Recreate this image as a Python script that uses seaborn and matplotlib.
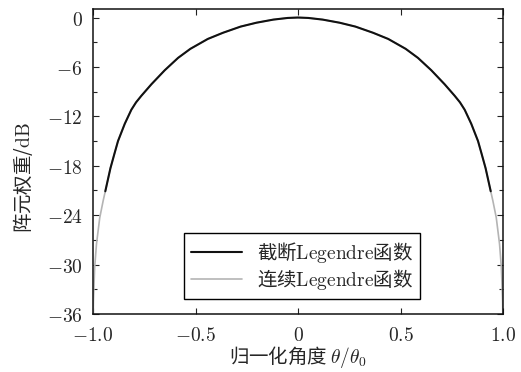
import numpy as np
import pandas as pd
import matplotlib
matplotlib.use("Agg")
import matplotlib.pyplot as plt
import seaborn as sns
from matplotlib.ticker import MultipleLocator

# Normalised angle and element weights (dB), truncated Legendre taper
trunc_x = [-0.940, -0.915, -0.895, -0.878, -0.845, -0.813, -0.790, -0.764,
           -0.715, -0.650, -0.585, -0.525, -0.440, -0.366, -0.280, -0.203,
           -0.120, -0.050, 0.000, 0.050, 0.120, 0.203, 0.280, 0.366, 0.440,
           0.525, 0.585, 0.650, 0.715, 0.764, 0.790, 0.813, 0.845, 0.878,
           0.895, 0.915, 0.940]
trunc_db = [-21.1, -18.3, -16.5, -15.0, -12.9, -11.2, -10.3, -9.5,
            -8.1, -6.4, -4.9, -3.8, -2.6, -1.85, -1.1, -0.63,
            -0.25, -0.05, 0.0, -0.05, -0.25, -0.63, -1.1, -1.85, -2.6,
            -3.8, -4.9, -6.4, -8.1, -9.5, -10.3, -11.2, -12.9, -15.0,
            -16.5, -18.3, -21.1]

# Continuous Legendre taper over the full aperture
cont_x = [-1.000, -0.998, -0.992, -0.983, -0.967, -0.950] + trunc_x + \
         [0.950, 0.967, 0.983, 0.992, 0.998, 1.000]
cont_db = [-38.0, -34.5, -30.4, -27.5, -24.3, -22.2] + trunc_db + \
          [-22.2, -24.3, -27.5, -30.4, -34.5, -38.0]

x_ticks = [-1.0, -0.5, 0.0, 0.5, 1.0]
x_tick_labels = ["$-1.0$", "$-0.5$", "$0$", "$0.5$", "$1.0$"]
y_ticks = [-36, -30, -24, -18, -12, -6, 0]
y_tick_labels = ["$-36$", "$-30$", "$-24$", "$-18$", "$-12$", "$-6$", "$0$"]

series_names = ["截断$\\mathrm{Legendre}$函数", "连续$\\mathrm{Legendre}$函数"]

sns.set_theme(style="ticks")
plt.rcParams["font.family"] = ["Noto Sans CJK SC", "DejaVu Sans"]
plt.rcParams["mathtext.fontset"] = "cm"
plt.rcParams["axes.unicode_minus"] = True

fig = plt.figure(figsize=(5.21, 3.72), dpi=100)
ax = fig.add_axes([0.1785, 0.156, 0.787, 0.819])

df_cont = pd.DataFrame({"x": cont_x, "y": cont_db})
df_trunc = pd.DataFrame({"x": trunc_x, "y": trunc_db})

sns.lineplot(data=df_cont, x="x", y="y", ax=ax, color="#b4b4b4", lw=1.2,
             sort=False, label=series_names[1], zorder=2)
sns.lineplot(data=df_trunc, x="x", y="y", ax=ax, color="#111111", lw=1.5,
             sort=False, label=series_names[0], zorder=3)

ax.set_xlim(-1.0, 1.0)
ax.set_ylim(-36, 1.0)
ax.set_xticks(x_ticks, x_tick_labels)
ax.set_yticks(y_ticks, y_tick_labels)
ax.yaxis.set_minor_locator(MultipleLocator(3))
ax.tick_params(which="both", direction="in", top=True, right=True,
               labelsize=14, width=0.8, color="#222222")
ax.tick_params(axis="x", pad=8)
ax.tick_params(axis="y", pad=7.5)
ax.tick_params(which="major", length=4)
ax.tick_params(which="minor", length=3)
for s in ax.spines.values():
    s.set_linewidth(1.1)
    s.set_color("#111111")

ax.set_xlabel("归一化角度 $\\theta/\\theta_0$", fontsize=14)
ax.xaxis.set_label_coords(0.5, -0.100)
ax.set_ylabel("阵元权重/$\\mathrm{dB}$", fontsize=14)
ax.yaxis.set_label_coords(-0.141, 0.447)

handles, labels = ax.get_legend_handles_labels()
order = [1, 0]
leg = ax.legend([handles[i] for i in order], [labels[i] for i in order],
                loc="lower center", bbox_to_anchor=(0.51, 0.05),
                borderaxespad=0, fontsize=14, frameon=True, fancybox=False,
                edgecolor="black", framealpha=1, handlelength=2.6,
                borderpad=0.35, labelspacing=0.12, handletextpad=0.8)
leg.get_frame().set_linewidth(1.0)

fig.savefig("out.png", dpi=100)
